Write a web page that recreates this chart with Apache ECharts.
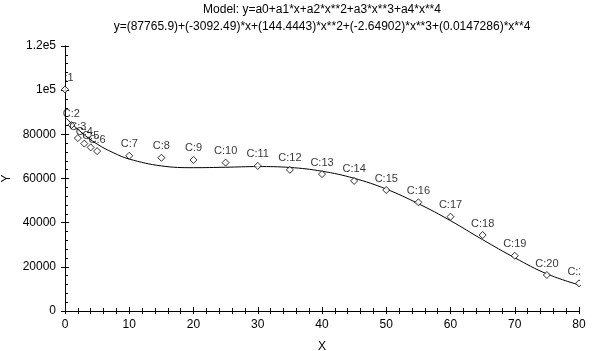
<!DOCTYPE html>
<html>
<head>
<meta charset="utf-8">
<script src="https://cdn.jsdelivr.net/npm/echarts@6/dist/echarts.min.js"></script>
<style>
    html, body { margin: 0; padding: 0; background: #fff; }
    #chart { width: 592px; height: 351px; }
</style>
</head>
<body>
<div id="chart"></div>
<script>
    // observed cases
    var pointX = [0, 1, 2, 3, 4, 5, 10, 15, 20, 25, 30, 35, 40, 45, 50, 55, 60, 65, 70, 75, 80];
    var pointY = [100300, 84200, 78300, 75800, 74100, 72400, 70300, 69400, 68400, 67200, 65700,
                  63900, 62000, 58900, 54800, 49200, 42700, 34400, 25000, 16300, 12500];
    var pointLabels = ['C:1', 'C:2', 'C:3', 'C:4', 'C:5', 'C:6', 'C:7', 'C:8', 'C:9', 'C:10', 'C:11',
                       'C:12', 'C:13', 'C:14', 'C:15', 'C:16', 'C:17', 'C:18', 'C:19', 'C:20', 'C:21'];

    // fitted curve
    var curveX = [0, 2.5, 5, 7.5, 10, 15, 20, 25, 30, 35, 40, 45, 50, 55, 60, 65, 70, 75, 80];
    var curveY = [87800, 81000, 75600, 71700, 68800, 65700, 64900, 65100, 65400, 65000, 63300,
                  60100, 55200, 48600, 40900, 32300, 24100, 16800, 11800];

    var yTickLabels = ['0', '20000', '40000', '60000', '80000', '1e5', '1.2e5'];
    var titleLines = [
        'Model: y=a0+a1*x+a2*x**2+a3*x**3+a4*x**4',
        'y=(87765.9)+(-3092.49)*x+(144.4443)*x**2+(-2.64902)*x**3+(0.0147286)*x**4'
    ];

    var font = 'Liberation Sans';
    var myChart = echarts.init(document.getElementById('chart'));

    var scatterData = [];
    for (var i = 0; i < pointX.length; i++) {
        scatterData.push({ value: [pointX[i], pointY[i]], name: pointLabels[i] });
    }
    var lineData = [];
    for (var j = 0; j < curveX.length; j++) {
        lineData.push([curveX[j], curveY[j]]);
    }

    var axisLine = { show: true, lineStyle: { color: '#000', width: 1 } };

    myChart.setOption({
        animation: false,
        backgroundColor: '#fff',
        textStyle: { fontFamily: font, color: '#000' },
        grid: { left: 65, right: 13, top: 46, bottom: 40, containLabel: false, outerBoundsMode: 'none' },
        graphic: [
            {
                type: 'text', x: 322, y: 10, z: 10,
                style: { text: titleLines[0], textAlign: 'center', textVerticalAlign: 'middle',
                         font: '12px "Liberation Sans"', fill: '#000' }
            },
            {
                type: 'text', x: 322, y: 27, z: 10,
                style: { text: titleLines[1], textAlign: 'center', textVerticalAlign: 'middle',
                         font: '12px "Liberation Sans"', fill: '#000' }
            },
            // clip labels that run past the plot frame
            { type: 'rect', shape: { x: 40, y: 70, width: 24, height: 13 }, style: { fill: '#fff' }, z: 100 },
            { type: 'rect', shape: { x: 580, y: 255, width: 12, height: 30 }, style: { fill: '#fff' }, z: 100 }
        ],
        xAxis: [
            {
                type: 'value', position: 'bottom', min: 0, max: 80, interval: 10,
                name: 'X', nameLocation: 'middle', nameGap: 30, nameMoveOverlap: false,
                nameTextStyle: { fontSize: 12, fontFamily: font, color: '#000' },
                axisLine: axisLine,
                axisTick: { show: true, inside: true, length: 4, lineStyle: { color: '#000' } },
                minorTick: { show: true, splitNumber: 5, length: 3, lineStyle: { color: '#000' } },
                axisLabel: { fontSize: 12, color: '#000', margin: 8 },
                splitLine: { show: false }
            },
            {
                type: 'value', position: 'top', min: 0, max: 80, interval: 2,
                axisLine: axisLine,
                axisTick: { show: true, inside: true, length: 3, lineStyle: { color: '#000' } },
                axisLabel: { show: false },
                splitLine: { show: false }
            }
        ],
        yAxis: [
            {
                type: 'value', position: 'left', min: 0, max: 120000, interval: 20000,
                name: 'Y', nameLocation: 'middle', nameGap: 52, nameMoveOverlap: false,
                nameTextStyle: { fontSize: 12, fontFamily: font, color: '#000' },
                axisLine: axisLine,
                axisTick: { show: true, inside: true, length: 4, lineStyle: { color: '#000' } },
                minorTick: { show: true, splitNumber: 5, length: 3, lineStyle: { color: '#000' } },
                axisLabel: {
                    fontSize: 12, color: '#000', margin: 9,
                    formatter: function (v) { return yTickLabels[Math.round(v / 20000)]; }
                },
                splitLine: { show: false }
            },
            {
                type: 'value', position: 'right', min: 0, max: 120000, interval: 20000,
                axisLine: axisLine,
                axisTick: { show: true, inside: true, length: 4, lineStyle: { color: '#000' } },
                axisLabel: { show: false },
                splitLine: { show: false }
            }
        ],
        series: [
            {
                name: 'fit', type: 'line', xAxisIndex: 0, yAxisIndex: 0,
                data: lineData, smooth: 0.4, showSymbol: false,
                lineStyle: { color: '#000', width: 1 }, z: 2
            },
            {
                name: 'cases', type: 'scatter', xAxisIndex: 0, yAxisIndex: 0,
                data: scatterData, symbol: 'diamond', symbolSize: 7,
                itemStyle: { color: '#fff', borderColor: '#000', borderWidth: 1 },
                label: {
                    show: true, position: 'top', distance: 2,
                    formatter: '{b}', fontSize: 11, fontFamily: font, color: '#000'
                },
                labelLayout: { hideOverlap: false },
                z: 3
            }
        ]
    });
</script>
</body>
</html>
